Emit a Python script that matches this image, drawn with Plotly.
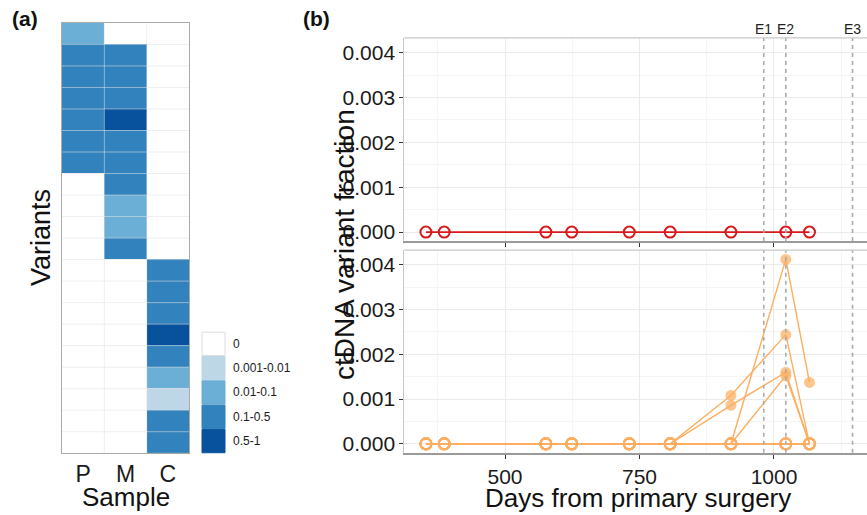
import plotly.graph_objects as go

W, H = 867, 515
FONT = "Liberation Sans, Arial, sans-serif"

# ---------------- data ----------------
samples = ["P", "M", "C"]
# level codes: 0 -> "0", 1 -> "0.001-0.01", 2 -> "0.01-0.1", 3 -> "0.1-0.5", 4 -> "0.5-1"
level_labels = ["0", "0.001-0.01", "0.01-0.1", "0.1-0.5", "0.5-1"]
level_colors = ["#ffffff", "#bdd7e7", "#6baed6", "#3182bd", "#08519c"]
variant_P = [2, 3, 3, 3, 3, 3, 3, 0, 0, 0, 0, 0, 0, 0, 0, 0, 0, 0, 0, 0]
variant_M = [0, 3, 3, 3, 4, 3, 3, 3, 2, 2, 3, 0, 0, 0, 0, 0, 0, 0, 0, 0]
variant_C = [0, 0, 0, 0, 0, 0, 0, 0, 0, 0, 0, 3, 3, 3, 4, 3, 2, 1, 3, 3]

days = [353, 387, 576, 624, 731, 807, 920, 1022, 1066]
red_series = [[0, 0, 0, 0, 0, 0, 0, 0, 0]]
orange_series = [
    [0, 0, 0, 0, 0, 0, 0, 0, 0],
    [0, 0, 0, 0, 0, 0, 0, 0, 0],
    [0, 0, 0, 0, 0, 0, 0, 0, 0],
    [0, 0, 0, 0, 0, 0, 0, 0, 0],
    [0, 0, 0, 0, 0, 0, 0, 0, 0],
    [0, 0, 0, 0, 0, 0, 0.00108, 0.00244, 0],
    [0, 0, 0, 0, 0, 0, 0.00086, 0.00160, 0],
    [0, 0, 0, 0, 0, 0, 0, 0.00152, 0],
    [0, 0, 0, 0, 0, 0, 0, 0.00412, 0.00137],
]
events = [981, 1022, 1146]
event_labels = ["E1", "E2", "E3"]
x_ticks = [500, 750, 1000]
y_ticks = [0, 0.001, 0.002, 0.003, 0.004]
y_ticktext = ["0.000", "0.001", "0.002", "0.003", "0.004"]

RED = "#d7191c"
ORANGE = "#fdae61"

# ---------------- helpers (pixel -> paper) ----------------
def px(x):
    return x / W

def py(y):
    return (H - y) / H

fig = go.Figure()

# ---------------- heatmap (a) ----------------
n_var = len(variant_P)
z = [[variant_P[i], variant_M[i], variant_C[i]] for i in range(n_var)]
cs = []
n = len(level_colors)
for k, c in enumerate(level_colors):
    cs.append([k / n, c])
    cs.append([(k + 1) / n, c])
fig.add_trace(go.Heatmap(
    z=z, x=samples, y=list(range(1, n_var + 1)),
    zmin=-0.5, zmax=n - 0.5, colorscale=cs, showscale=False,
    xaxis="x3", yaxis="y3", hoverinfo="skip",
))

# ---------------- time series (b) ----------------
fig.add_trace(go.Scatter(
    x=days, y=red_series[0], mode="lines+markers", xaxis="x2", yaxis="y2",
    line=dict(color=RED, width=1.8),
    marker=dict(symbol="circle-open", size=11, color=RED, line=dict(width=2, color=RED)),
    showlegend=False, hoverinfo="skip",
))
for s in orange_series:
    syms = ["circle" if v > 0 else "circle-open" for v in s]
    sizes = [9 if v > 0 else 11 for v in s]
    fig.add_trace(go.Scatter(
        x=days, y=s, mode="lines+markers", xaxis="x", yaxis="y",
        line=dict(color=ORANGE, width=1.4),
        marker=dict(symbol=syms, size=sizes, color=ORANGE, line=dict(width=2, color=ORANGE)),
        showlegend=False, hoverinfo="skip",
    ))

# ---------------- layout geometry ----------------
hx0, hx1, hy0, hy1 = 62, 189, 23, 455
bx0 = 404.3
t_y0, t_y1 = 38, 242
b_y0, b_y1 = 251, 454.5
xrange = [312.8, 1172.9]
yrange = [-0.0002, 0.00433]

grid_major = "#ebebeb"
grid_minor = "#f5f5f5"
tickfont = dict(family=FONT, size=21, color="#1a1a1a")

common_x = dict(
    range=xrange, domain=[px(bx0), 1.0], tickvals=x_ticks,
    showgrid=True, gridcolor=grid_major, gridwidth=1,
    minor=dict(dtick=125, tick0=375, showgrid=True, gridcolor=grid_minor, gridwidth=1),
    zeroline=False, ticks="outside", ticklen=4, tickcolor="#333333", tickwidth=1,
    showline=True, linecolor="#9a9a9a", linewidth=2,
    tickfont=tickfont,
)
common_y = dict(
    range=yrange, tickvals=y_ticks, ticktext=y_ticktext,
    showgrid=True, gridcolor=grid_major, gridwidth=1,
    minor=dict(dtick=0.0005, tick0=0.0005, showgrid=True, gridcolor=grid_minor, gridwidth=1),
    zeroline=False, ticks="outside", ticklen=4, tickcolor="#333333", tickwidth=1,
    showline=True, linecolor="#c8c8c8", linewidth=1,
    tickfont=tickfont,
)

shapes = []
annotations = []

# event dashed lines in both panels
for e in events:
    for xr, yr in (("x", "y domain"), ("x2", "y2 domain")):
        shapes.append(dict(type="line", xref=xr, yref=yr, x0=e, x1=e, y0=0, y1=1,
                           line=dict(color="#ababab", width=1.6, dash="4px,4px"), layer="above"))
for e, lab in zip(events, event_labels):
    annotations.append(dict(x=e, xref="x2", y=py(29), yref="paper", text=lab,
                            showarrow=False, font=dict(family=FONT, size=14, color="#222222"),
                            xanchor="center", yanchor="middle"))

# top borders of panel b facets
for yr in ("y domain", "y2 domain"):
    shapes.append(dict(type="line", xref="paper", yref=yr, x0=px(bx0), x1=1.0, y0=1, y1=1,
                       line=dict(color="#c8c8c8", width=1.2), layer="above"))

# heatmap cell separators
for i in range(1, n_var):
    shapes.append(dict(type="line", xref="x3 domain", yref="y3", x0=0, x1=1, y0=i + 0.5, y1=i + 0.5,
                       line=dict(color="rgba(225,225,225,0.55)", width=1), layer="above"))
for j in range(1, len(samples)):
    shapes.append(dict(type="line", xref="x3", yref="y3 domain", x0=j - 0.5, x1=j - 0.5, y0=0, y1=1,
                       line=dict(color="rgba(225,225,225,0.55)", width=1), layer="above"))

# heatmap legend (keys + labels)
key_x0, key_x1 = 202, 225
key_top, key_h = 333, 24.4
for k, (lab, col) in enumerate(zip(level_labels, level_colors)):
    y0 = key_top + k * key_h
    shapes.append(dict(type="rect", xref="paper", yref="paper",
                       x0=px(key_x0), x1=px(key_x1), y0=py(y0 + key_h - 0.5), y1=py(y0 + 0.5),
                       fillcolor=col,
                       line=dict(color="#dddddd" if k == 0 else col, width=1)))
    annotations.append(dict(x=px(231), y=py(y0 + key_h / 2), xref="paper", yref="paper",
                            text=lab, showarrow=False, xanchor="left", yanchor="middle",
                            font=dict(family=FONT, size=12, color="#1a1a1a")))

# panel labels and titles
annotations += [
    dict(x=px(10), y=py(19), xref="paper", yref="paper", text="<b>(a)</b>", showarrow=False,
         xanchor="left", yanchor="middle", font=dict(family=FONT, size=21, color="#111111")),
    dict(x=px(301), y=py(19), xref="paper", yref="paper", text="<b>(b)</b>", showarrow=False,
         xanchor="left", yanchor="middle", font=dict(family=FONT, size=21, color="#111111")),
    dict(x=px(41), y=py(239), xref="paper", yref="paper", text="Variants", showarrow=False,
         textangle=-90, xanchor="center", yanchor="middle",
         font=dict(family=FONT, size=27, color="#111111")),
    dict(x=px(125.5), y=py(499), xref="paper", yref="paper", text="Sample", showarrow=False,
         xanchor="center", yanchor="middle", font=dict(family=FONT, size=26, color="#111111")),
    dict(x=px(344), y=py(246), xref="paper", yref="paper", text="ctDNA variant fraction",
         showarrow=False, textangle=-90, xanchor="center", yanchor="middle",
         font=dict(family=FONT, size=28, color="#111111")),
    dict(x=px(638), y=py(499.5), xref="paper", yref="paper", text="Days from primary surgery",
         showarrow=False, xanchor="center", yanchor="middle",
         font=dict(family=FONT, size=26, color="#111111")),
]

fig.update_layout(
    width=W, height=H, margin=dict(l=0, r=0, t=0, b=0),
    paper_bgcolor="white", plot_bgcolor="white",
    showlegend=False,
    xaxis=dict(anchor="y", **common_x),
    yaxis=dict(anchor="x", domain=[py(b_y1), py(b_y0)], **common_y),
    xaxis2=dict(anchor="y2", matches="x", showticklabels=False, **{k: v for k, v in common_x.items() if k not in ("tickfont",)}),
    yaxis2=dict(anchor="x2", domain=[py(t_y1), py(t_y0)], **common_y),
    xaxis3=dict(anchor="y3", domain=[px(hx0), px(hx1)], type="category",
                showgrid=False, zeroline=False, ticks="", showline=True, mirror=True,
                linecolor="#aaaaaa", linewidth=1,
                tickfont=dict(family=FONT, size=23, color="#1a1a1a")),
    yaxis3=dict(anchor="x3", domain=[py(hy1), py(hy0)], range=[n_var + 0.5, 0.5],
                showgrid=False, zeroline=False, showticklabels=False, ticks="",
                showline=True, mirror=True, linecolor="#aaaaaa", linewidth=1),
    shapes=shapes, annotations=annotations,
)

fig.write_html("out.html")
